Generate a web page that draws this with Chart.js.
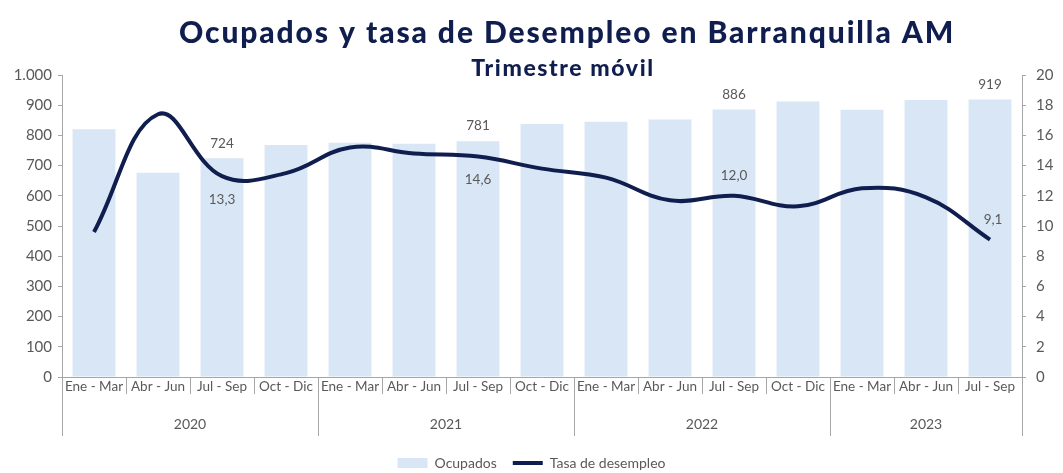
<!DOCTYPE html>
<html>
<head>
<meta charset="utf-8">
<script src="https://cdn.jsdelivr.net/npm/chart.js@4/dist/chart.umd.min.js"></script>
<style>
  html, body { margin: 0; padding: 0; background: #fff; }
  #wrap { width: 1063px; height: 473px; }
</style>
</head>
<body>
<div id="wrap"><canvas id="ocupadosChart"></canvas></div>
<script>
const quarters = ['Ene - Mar', 'Abr - Jun', 'Jul - Sep', 'Oct - Dic', 'Ene - Mar', 'Abr - Jun', 'Jul - Sep', 'Oct - Dic', 'Ene - Mar', 'Abr - Jun', 'Jul - Sep', 'Oct - Dic', 'Ene - Mar', 'Abr - Jun', 'Jul - Sep'];
const years = ['2020', '2020', '2020', '2020', '2021', '2021', '2021', '2021', '2022', '2022', '2022', '2022', '2023', '2023', '2023'];
const ocupados = [820, 676, 724, 768, 776, 772, 781, 838, 845, 853, 886, 912, 885, 917, 919];
const desempleo = [9.6, 17.4, 13.3, 13.5, 15.2, 14.8, 14.6, 13.8, 13.2, 11.7, 12.0, 11.3, 12.5, 11.9, 9.1];
const labeledPoints = [2, 6, 10, 14];

const navy = '#0f1e4e';
const grey = '#595959';
const axisGrey = '#a6a6a6';
const font = 'Lato, "Open Sans", sans-serif';

const fmtMiles = v => v >= 1000 ? Math.floor(v / 1000) + '.' + String(v % 1000).padStart(3, '0') : String(v);
const fmtDec = v => v.toFixed(1).replace('.', ',');

const extras = {
  id: 'extras',
  afterDraw(chart) {
    const ctx = chart.ctx;
    const x = chart.scales.x;
    ctx.save();

    // titles
    ctx.fillStyle = navy;
    ctx.textAlign = 'center';
    ctx.textBaseline = 'middle';
    ctx.letterSpacing = '1.9px';
    ctx.font = '900 30px ' + font;
    ctx.fillText('Ocupados y tasa de Desempleo en Barranquilla AM', 567, 33);
    ctx.letterSpacing = '1.6px';
    ctx.font = '900 23px ' + font;
    ctx.fillText('Trimestre móvil', 563, 69);
    ctx.letterSpacing = '0px';

    // year row
    const half = (x.getPixelForValue(1) - x.getPixelForValue(0)) / 2;
    ctx.strokeStyle = axisGrey;
    ctx.lineWidth = 1;
    ctx.fillStyle = grey;
    ctx.font = '14px ' + font;
    let start = 0;
    for (let i = 1; i <= years.length; i++) {
      if (i === years.length || years[i] !== years[start]) {
        const left = x.getPixelForValue(start) - half;
        const right = x.getPixelForValue(i - 1) + half;
        [left, right].forEach(px => {
          ctx.beginPath();
          ctx.moveTo(Math.round(px) + 0.5, x.top);
          ctx.lineTo(Math.round(px) + 0.5, x.top + 59);
          ctx.stroke();
        });
        ctx.fillText(years[start], (left + right) / 2, x.top + 47);
        start = i;
      }
    }

    // data labels
    ctx.font = '13.5px ' + font;
    const barMeta = chart.getDatasetMeta(0);
    const lineMeta = chart.getDatasetMeta(1);
    labeledPoints.forEach((idx, k) => {
      const b = barMeta.data[idx];
      ctx.fillText(String(ocupados[idx]), b.x, b.y - 15);
      const p = lineMeta.data[idx];
      const dy = k < 2 ? 23 : -20;
      ctx.fillText(fmtDec(desempleo[idx]), p.x + (k === 3 ? 3 : 0), p.y + dy);
    });
    ctx.restore();
  }
};

new Chart(document.getElementById('ocupadosChart'), {
  data: {
    labels: quarters,
    datasets: [
      {
        type: 'bar',
        label: 'Ocupados',
        data: ocupados,
        backgroundColor: '#d9e6f5',
        barPercentage: 0.67,
        categoryPercentage: 1,
        pointStyle: 'rect',
        yAxisID: 'y',
        order: 2,
      },
      {
        type: 'line',
        label: 'Tasa de desempleo',
        data: desempleo,
        borderColor: navy,
        borderWidth: 4,
        tension: 0.4,
        pointRadius: 0,
        pointStyle: 'line',
        pointBorderColor: navy,
        pointBorderWidth: 4,
        yAxisID: 'y1',
        order: 1,
      },
    ],
  },
  options: {
    responsive: true,
    maintainAspectRatio: false,
    animation: false,
    layout: { padding: { top: 75, left: 0, right: 0, bottom: -7 } },
    plugins: {
      title: { display: false },
      tooltip: { enabled: false },
      legend: {
        position: 'bottom',
        labels: {
          usePointStyle: true,
          pointStyleWidth: 30,
          boxHeight: 10,
          padding: 16,
          color: grey,
          font: { family: font, size: 14 },
          sort: (a, b) => a.datasetIndex - b.datasetIndex,
        },
      },
    },
    scales: {
      x: {
        grid: { offset: true, drawOnChartArea: false, tickLength: 17, color: axisGrey },
        border: { color: axisGrey },
        ticks: { color: grey, font: { family: font, size: 13.5 }, maxRotation: 0, autoSkip: false, padding: -15 },
        afterFit(scale) { scale.height = 63; },
      },
      y: {
        position: 'left',
        min: 0,
        max: 1000,
        grid: { drawOnChartArea: false, tickLength: 4, color: axisGrey },
        border: { color: axisGrey },
        ticks: { stepSize: 100, color: grey, font: { family: font, size: 15 }, padding: 6, callback: v => fmtMiles(v) },
        afterFit(scale) { scale.width = 62; },
      },
      y1: {
        position: 'right',
        min: 0,
        max: 20,
        grid: { drawOnChartArea: false, tickLength: 4, color: axisGrey },
        border: { color: axisGrey },
        ticks: { stepSize: 2, color: grey, font: { family: font, size: 15 }, padding: 10 },
        afterFit(scale) { scale.width = 41; },
      },
    },
  },
  plugins: [extras],
});
</script>
</body>
</html>
